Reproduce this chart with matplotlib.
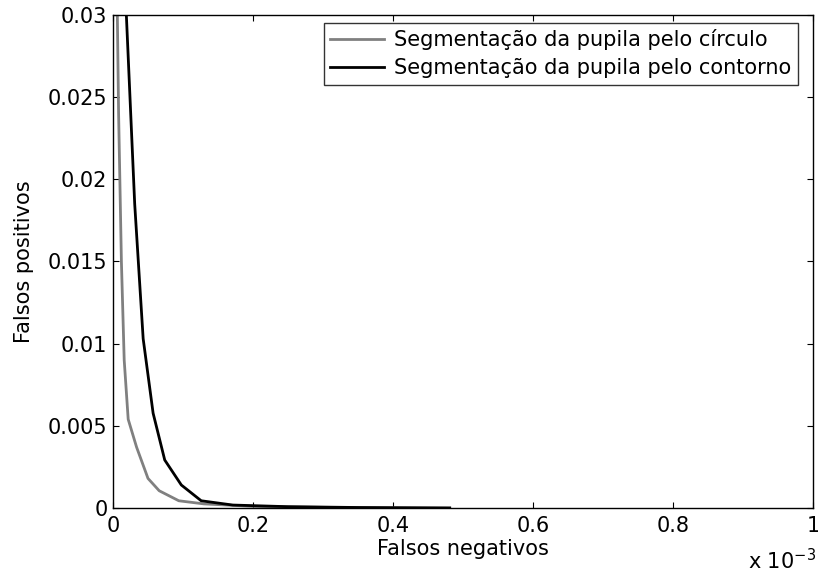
import numpy as np
import matplotlib
matplotlib.use("Agg")
import matplotlib.pyplot as plt
from matplotlib.ticker import FuncFormatter, MultipleLocator

plt.rcParams['font.family'] = ['DejaVu Sans']

fn_circulo = np.array([0.005, 0.008, 0.012, 0.016, 0.0217, 0.0337, 0.050, 0.066,
                       0.094, 0.13, 0.2, 0.3, 0.4, 0.481]) * 1e-3
fp_circulo = [0.034, 0.024, 0.015, 0.009, 0.0054, 0.0037, 0.0018, 0.00105,
              0.00044, 0.00025, 0.0001, 0.00004, 0.00001, 0.0]

fn_contorno = np.array([0.017, 0.031, 0.0431, 0.0573, 0.0739, 0.0976, 0.126,
                        0.171, 0.25, 0.35, 0.481]) * 1e-3
fp_contorno = [0.032, 0.0185, 0.0103, 0.00577, 0.00292, 0.0014, 0.00044,
               0.00018, 0.00008, 0.00003, 0.0]

labels = ["Segmentação da pupila pelo círculo",
          "Segmentação da pupila pelo contorno"]

W, H = 818, 574
fs = 15

fig = plt.figure(figsize=(W / 100, H / 100), dpi=100)
ax = fig.add_axes([113 / W, 1 - 508 / H, 700 / W, 493 / H])

ax.plot(fn_circulo, fp_circulo, color='#808080', lw=2.0, label=labels[0])
ax.plot(fn_contorno, fp_contorno, color='black', lw=2.0, label=labels[1])

ax.set_xlim(0, 1e-3)
ax.set_ylim(0, 0.03)
ax.xaxis.set_major_locator(MultipleLocator(2e-4))
ax.yaxis.set_major_locator(MultipleLocator(0.005))
ax.xaxis.set_major_formatter(FuncFormatter(lambda v, p: "%g" % round(v * 1e3, 6)))
ax.yaxis.set_major_formatter(FuncFormatter(lambda v, p: "%g" % round(v, 6)))
ax.tick_params(direction='in', top=True, right=True, length=4.5, width=0.8,
               labelsize=fs)
ax.tick_params(axis='x', pad=6)
ax.tick_params(axis='y', pad=4)
for s in ax.spines.values():
    s.set_linewidth(1.0)

ax.set_xlabel("Falsos negativos", fontsize=fs)
ax.set_ylabel("Falsos positivos", fontsize=fs)
ax.xaxis.set_label_coords(0.5, -(539 - 508) / 493)
ax.yaxis.set_label_coords(-(113 - 34) / 700, 0.5)
fig.text(816 / W, 1 - 569 / H, "x 10$^{-3}$", fontsize=fs, ha='right',
         va='baseline')

leg = ax.legend(loc='upper right', fontsize=fs, frameon=True, fancybox=False,
                edgecolor='black', borderaxespad=0,
                bbox_to_anchor=(798 / W, 1 - 22.7 / H),
                bbox_transform=fig.transFigure, handlelength=2.6,
                borderpad=0.3, labelspacing=0.4, handletextpad=0.5)
leg.get_frame().set_linewidth(1.0)

fig.savefig("out.png", dpi=100)
